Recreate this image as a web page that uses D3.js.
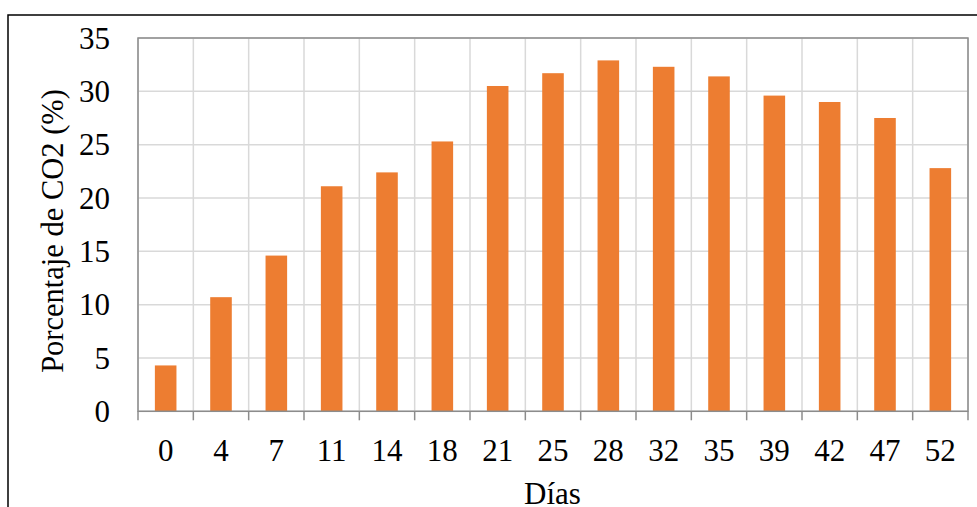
<!DOCTYPE html>
<html>
<head>
<meta charset="utf-8">
<script src="https://cdn.jsdelivr.net/npm/d3@7"></script>
<style>
  html, body { margin: 0; padding: 0; background: #fff; }
  svg { display: block; }
  text { font-family: "Liberation Serif", "Times New Roman", serif; fill: #000; }
</style>
</head>
<body>
<svg id="chart" width="977" height="507"></svg>
<script>
// CO2 percentage measured on each sampling day
const dias = ["0", "4", "7", "11", "14", "18", "21", "25", "28", "32", "35", "39", "42", "47", "52"];
const co2 = [4.3, 10.7, 14.6, 21.1, 22.4, 25.3, 30.5, 31.7, 32.9, 32.3, 31.4, 29.6, 29.0, 27.5, 22.8];
const yTicks = [0, 5, 10, 15, 20, 25, 30, 35];

const svg = d3.select("#chart");
const W = 977, H = 507;
const m = { left: 138, top: 38, right: 968, bottom: 411.3 };

// outer chart frame (runs off the right and bottom edges)
svg.append("rect")
  .attr("x", 8).attr("y", 15)
  .attr("width", W + 10).attr("height", H + 10)
  .attr("fill", "none").attr("stroke", "#000").attr("stroke-width", 1.5);

const x = d3.scaleBand().domain(dias).range([m.left, m.right]).paddingInner(0).paddingOuter(0);
const y = d3.scaleLinear().domain([0, 35]).range([m.bottom, m.top]);

const grid = svg.append("g");
// horizontal gridlines
grid.selectAll("line.h").data(yTicks).join("line")
  .attr("x1", m.left).attr("x2", m.right)
  .attr("y1", d => y(d)).attr("y2", d => y(d))
  .attr("stroke", "#d9d9d9").attr("stroke-width", 1.5);
// vertical gridlines at category boundaries
const bounds = dias.map(d => x(d)).concat([m.right]);
grid.selectAll("line.v").data(bounds).join("line")
  .attr("x1", d => d).attr("x2", d => d)
  .attr("y1", m.top).attr("y2", m.bottom)
  .attr("stroke", "#d9d9d9").attr("stroke-width", 1.5);

// bars
const bw = x.bandwidth() * 0.39;
svg.append("g").selectAll("rect").data(co2).join("rect")
  .attr("x", (d, i) => x(dias[i]) + x.bandwidth() / 2 - bw / 2)
  .attr("width", bw)
  .attr("y", d => y(d))
  .attr("height", d => y(0) - y(d))
  .attr("fill", "#ED7D31");

// plot area border
svg.append("rect")
  .attr("x", m.left).attr("y", m.top)
  .attr("width", m.right - m.left).attr("height", m.bottom - m.top)
  .attr("fill", "none").attr("stroke", "#8c8c8c").attr("stroke-width", 1.5);

// x-axis tick marks
svg.append("g").selectAll("line").data(bounds).join("line")
  .attr("x1", d => d).attr("x2", d => d)
  .attr("y1", m.bottom).attr("y2", m.bottom + 9)
  .attr("stroke", "#8c8c8c").attr("stroke-width", 1.5);

// x tick labels
svg.append("g").selectAll("text").data(dias).join("text")
  .attr("x", d => x(d) + x.bandwidth() / 2)
  .attr("y", 461)
  .attr("text-anchor", "middle")
  .attr("font-size", 31)
  .text(d => d);

// y tick labels
svg.append("g").selectAll("text").data(yTicks).join("text")
  .attr("x", 110)
  .attr("y", d => y(d))
  .attr("dy", "0.34em")
  .attr("text-anchor", "end")
  .attr("font-size", 31)
  .text(d => d);

// axis titles
svg.append("text")
  .attr("x", (m.left + m.right) / 2 - 0.5)
  .attr("y", 504)
  .attr("text-anchor", "middle")
  .attr("font-size", 31)
  .text("Días");

svg.append("text")
  .attr("transform", "translate(63, 231) rotate(-90)")
  .attr("text-anchor", "middle")
  .attr("font-size", 30.5)
  .text("Porcentaje de CO2 (%)");
</script>
</body>
</html>
